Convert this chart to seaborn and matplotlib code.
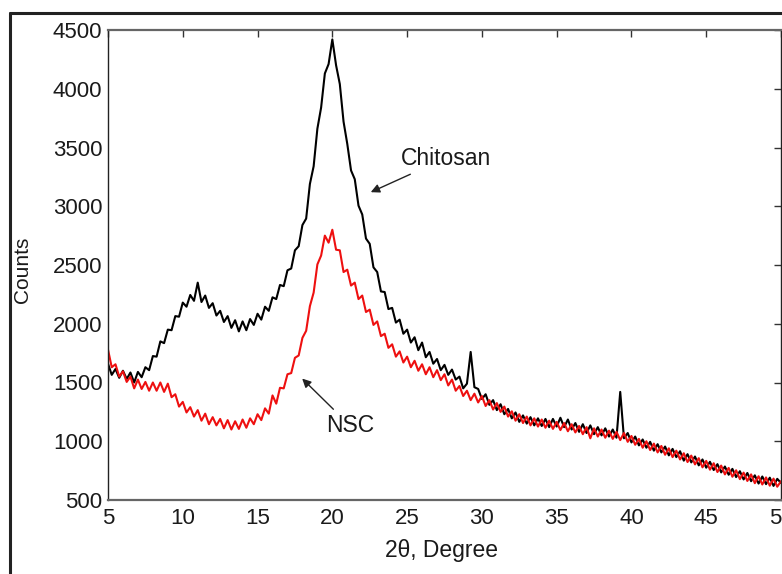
import numpy as np
import matplotlib
matplotlib.use("Agg")
import matplotlib.pyplot as plt
from matplotlib.lines import Line2D
import seaborn as sns

# ---------------- data ----------------#
# scan grid, 2-theta in degrees (0.25 deg steps)
two_theta = np.arange(5.0, 50.001, 0.25)

# chitosan counts
chitosan = [
    1660, 1565, 1615, 1540, 1600, 1530, 1585, 1500, 1590, 1545, 1630, 1605,
    1725, 1720, 1850, 1835, 1950, 1945, 2065, 2060, 2180, 2145, 2245, 2195,
    2350, 2185, 2240, 2135, 2175, 2070, 2110, 2015, 2065, 1965, 2030, 1935,
    2020, 1945, 2040, 1990, 2085, 2035, 2145, 2110, 2225, 2210, 2330, 2320,
    2455, 2470, 2625, 2660, 2840, 2895, 3190, 3340, 3660, 3840, 4130, 4210,
    4420, 4200, 4040, 3720, 3530, 3305, 3230, 3005, 2930, 2725, 2680, 2480,
    2440, 2275, 2270, 2125, 2135, 2010, 2035, 1915, 1950, 1840, 1885, 1775,
    1840, 1715, 1760, 1660, 1700, 1605, 1650, 1565, 1610, 1525, 1550, 1450,
    1490, 1760, 1460, 1445, 1360, 1400, 1310, 1350, 1265, 1315, 1230, 1275,
    1195, 1245, 1165, 1220, 1150, 1205, 1135, 1195, 1130, 1190, 1120, 1190,
    1125, 1200, 1120, 1185, 1100, 1155, 1080, 1145, 1070, 1135, 1060, 1120,
    1050, 1110, 1040, 1100, 1030, 1420, 1025, 1070, 990, 1040, 965, 1015,
    945, 995, 920, 975, 905, 955, 880, 935, 865, 915, 835, 890,
    820, 870, 795, 845, 775, 825, 755, 805, 735, 785, 715, 765,
    695, 745, 675, 730, 660, 710, 640, 700, 635, 690, 620, 680,
    645,
]

# NSC counts
nsc = [
    1780, 1630, 1655, 1550, 1595, 1505, 1550, 1450, 1525, 1445, 1505, 1430,
    1500, 1430, 1500, 1420, 1490, 1375, 1400, 1295, 1335, 1245, 1290, 1210,
    1265, 1175, 1235, 1145, 1205, 1135, 1190, 1110, 1180, 1100, 1170, 1105,
    1185, 1115, 1195, 1145, 1230, 1180, 1280, 1235, 1390, 1320, 1455, 1450,
    1570, 1580, 1710, 1730, 1880, 1940, 2150, 2265, 2505, 2580, 2750, 2690,
    2800, 2630, 2625, 2440, 2460, 2325, 2350, 2210, 2240, 2100, 2120, 1990,
    2020, 1895, 1915, 1795, 1825, 1720, 1765, 1670, 1720, 1630, 1685, 1600,
    1655, 1570, 1630, 1545, 1605, 1520, 1570, 1475, 1525, 1430, 1470, 1385,
    1430, 1350, 1405, 1330, 1385, 1300, 1350, 1270, 1325, 1250, 1295, 1210,
    1255, 1175, 1230, 1155, 1210, 1135, 1195, 1125, 1185, 1115, 1175, 1105,
    1165, 1095, 1155, 1085, 1145, 1075, 1130, 1060, 1120, 1025, 1110, 1040,
    1100, 1030, 1090, 1020, 1080, 1010, 1070, 995, 1045, 970, 1020, 945,
    1000, 925, 980, 905, 960, 885, 940, 865, 920, 845, 898, 823,
    878, 803, 856, 778, 833, 758, 813, 738, 793, 718, 773, 698,
    753, 678, 733, 662, 718, 643, 702, 632, 692, 622, 682, 613,
    660,
]

x_ticks = list(range(5, 51, 5))
y_ticks = list(range(500, 4501, 500))

# ---------------- plot ----------------#
sns.set_style("white")
plt.rcParams['font.family'] = ['Liberation Sans', 'DejaVu Sans']
plt.rcParams['text.color'] = '#1a1a1a'

fig = plt.figure(figsize=(7.82, 5.74), dpi=100)
ax = fig.add_axes([108 / 782, 1 - 500 / 574, 673 / 782, 470 / 574])

sns.lineplot(x=two_theta, y=chitosan, color='black', lw=1.5, ax=ax)
sns.lineplot(x=two_theta, y=nsc, color='#ee1010', lw=1.5, ax=ax)

ax.set_xlim(5, 50)
ax.set_ylim(500, 4500)
ax.set_xticks(x_ticks)
ax.set_yticks(y_ticks)
ax.tick_params(axis='both', direction='in', length=5, width=1, labelsize=16,
               top=True, right=True, color='#333333', labelcolor='#1a1a1a')
ax.tick_params(axis='x', pad=6)
ax.tick_params(axis='y', pad=4)

for side in ['top', 'bottom']:
    ax.spines[side].set_color('#666666')
    ax.spines[side].set_linewidth(1.6)
for side in ['left', 'right']:
    ax.spines[side].set_color('#222222')
    ax.spines[side].set_linewidth(1.0)

ax.set_xlabel('2θ, Degree', fontsize=16.5, color='#1a1a1a')
ax.set_ylabel('Counts', fontsize=15, color='#1a1a1a')
ax.xaxis.set_label_coords(0.495, -0.082)
ax.yaxis.set_label_coords(-0.113, 0.49)

arrow = dict(arrowstyle='-|>', color='#222222', lw=1.0, mutation_scale=13)
ax.annotate('Chitosan', xy=(22.4, 3110), xytext=(24.55, 3310),
            arrowprops=arrow, fontsize=16.5, ha='left', va='bottom')
ax.annotate('NSC', xy=(17.85, 1550), xytext=(19.6, 1130),
            arrowprops=dict(arrow, shrinkA=2), fontsize=16.5,
            ha='left', va='center')

# outer frame of the figure panel (cropped at right and bottom)
fl, ft = 10 / 782, 1 - 13 / 574
fig.add_artist(Line2D([fl, fl], [ft, 0], transform=fig.transFigure,
                      color='#222222', lw=2.2))
fig.add_artist(Line2D([fl, 1], [ft, ft], transform=fig.transFigure,
                      color='#222222', lw=2.2))

fig.savefig('out.png', dpi=100)
